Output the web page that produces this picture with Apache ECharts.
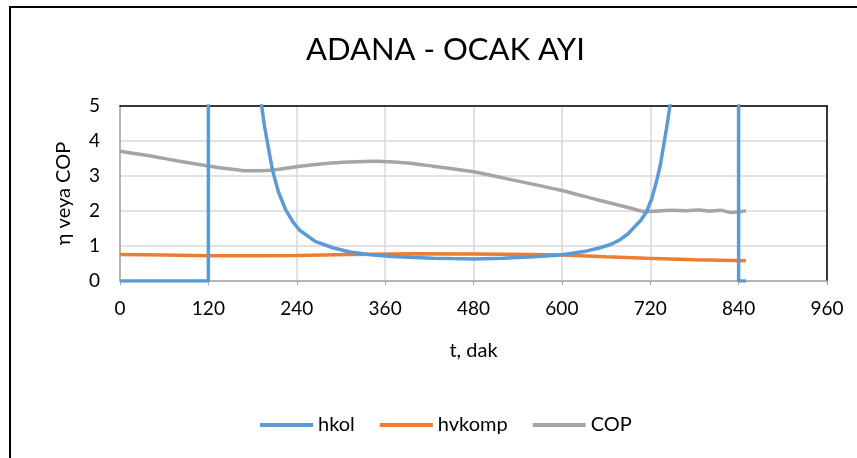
<!DOCTYPE html>
<html>
<head>
<meta charset="utf-8">
<script src="https://cdn.jsdelivr.net/npm/echarts@6/dist/echarts.min.js"></script>
<style>
html,body{margin:0;padding:0;background:#fff;}
#c{width:857px;height:458px;}
</style>
</head>
<body>
<div id="c"></div>
<script>
// ---- data (t in minutes) ----
const seriesNames = ['hkol', 'hvkomp', 'COP'];
const xTicks = [0, 120, 240, 360, 480, 600, 720, 840, 960];
const yTicks = [0, 1, 2, 3, 4, 5];

const hkol = [[0,0],[120,0],[120,60],[185,7.5],[192.4,5.0],[196,4.45],[200,3.98],[207,3.17],[215,2.55],[225,2.03],[235,1.68],[244,1.45],[265,1.13],[289,0.95],[312,0.83],[340,0.75],[370,0.70],[400,0.67],[425,0.65],[450,0.64],[480,0.63],[520,0.65],[561,0.69],[590,0.73],[607,0.77],[630,0.84],[652,0.95],[667,1.05],[679,1.18],[690,1.35],[697,1.51],[707,1.73],[715,1.98],[722,2.35],[729,2.89],[734,3.35],[738,3.85],[742,4.35],[746,4.9],[750,5.6],[760,8],[800,30],[839.5,60],[840,0],[850,0]];

const hvkomp = [[0,0.76],[60,0.74],[120,0.72],[180,0.72],[240,0.73],[312,0.76],[400,0.78],[480,0.77],[560,0.76],[600,0.74],[660,0.69],[715,0.65],[780,0.61],[850,0.58]];

const cop = [[0,3.71],[40,3.58],[81,3.42],[122,3.28],[150,3.2],[172,3.15],[190,3.15],[208,3.17],[244,3.28],[280,3.36],[312,3.40],[348,3.42],[390,3.37],[425,3.28],[480,3.12],[539,2.86],[597,2.6],[652,2.3],[690,2.1],[715,1.98],[730,2.0],[750,2.02],[770,2.01],[787,2.03],[800,2.0],[815,2.02],[830,1.96],[840,1.98],[850,2.01]];

const colors = ['#5B9BD5', '#ED7D31', '#A5A5A5'];
const FONT = 'Lato';

const chart = echarts.init(document.getElementById('c'), null, {renderer: 'canvas'});
chart.setOption({
  animation: false,
  color: colors,
  textStyle: {fontFamily: FONT},
  title: {
    text: 'ADANA - OCAK AYI',
    left: 301, top: 29,
    textStyle: {fontFamily: FONT, fontSize: 31, fontWeight: 'normal', color: '#000'}
  },
  graphic: [{
    type: 'rect', silent: true,
    shape: {x: 10, y: 7, width: 900, height: 520},
    style: {fill: 'none', stroke: '#000', lineWidth: 2}
  }],
  legend: {
    data: seriesNames,
    left: 255, top: 410,
    icon: 'rect',
    itemWidth: 53, itemHeight: 4, itemGap: 25,
    textStyle: {fontFamily: FONT, fontSize: 20, color: '#000'}
  },
  grid: {left: 120, right: 30, top: 106, bottom: 177, containLabel: false},
  xAxis: [{
    type: 'value', min: xTicks[0], max: xTicks[xTicks.length-1], interval: 120,
    name: 't, dak', nameLocation: 'middle', nameGap: 60,
    nameTextStyle: {fontFamily: FONT, fontSize: 20, color: '#000'},
    axisLine: {show: true, lineStyle: {color: '#A6A6A6', width: 1.5}},
    axisTick: {show: true, length: 4, lineStyle: {color: '#A6A6A6'}},
    axisLabel: {fontFamily: FONT, fontSize: 19, color: '#000', margin: 18},
    splitLine: {show: true, lineStyle: {color: '#D9D9D9', width: 1.5}}
  }, {
    type: 'value', position: 'top', min: 0, max: 960,
    axisLine: {show: true, onZero: false, lineStyle: {color: '#000', width: 1.5}},
    axisTick: {show: false}, axisLabel: {show: false}, splitLine: {show: false}
  }],
  yAxis: [{
    type: 'value', min: yTicks[0], max: yTicks[yTicks.length-1], interval: 1,
    name: 'η veya COP', nameLocation: 'middle', nameGap: 46,
    nameTextStyle: {fontFamily: FONT, fontSize: 20, color: '#000'},
    axisLine: {show: true, lineStyle: {color: '#A6A6A6', width: 1.5}},
    axisTick: {show: false},
    axisLabel: {fontFamily: FONT, fontSize: 19, color: '#000', margin: 20},
    splitLine: {show: true, lineStyle: {color: '#D9D9D9', width: 1.5}}
  }, {
    type: 'value', position: 'right', min: 0, max: 5,
    axisLine: {show: true, onZero: false, lineStyle: {color: '#000', width: 1.5}},
    axisTick: {show: false}, axisLabel: {show: false}, splitLine: {show: false}
  }],
  series: [
    {name: seriesNames[0], type: 'line', data: hkol, showSymbol: false, symbol: 'none', clip: true,
     itemStyle: {color: colors[0]}, lineStyle: {width: 3.5, color: colors[0]}, z: 3},
    {name: seriesNames[1], type: 'line', data: hvkomp, showSymbol: false, symbol: 'none', clip: true,
     itemStyle: {color: colors[1]}, lineStyle: {width: 3.5, color: colors[1]}, z: 2},
    {name: seriesNames[2], type: 'line', data: cop, showSymbol: false, symbol: 'none', clip: true,
     smooth: 0.3, itemStyle: {color: colors[2]}, lineStyle: {width: 3.5, color: colors[2]}, z: 2}
  ]
});
</script>
</body>
</html>
